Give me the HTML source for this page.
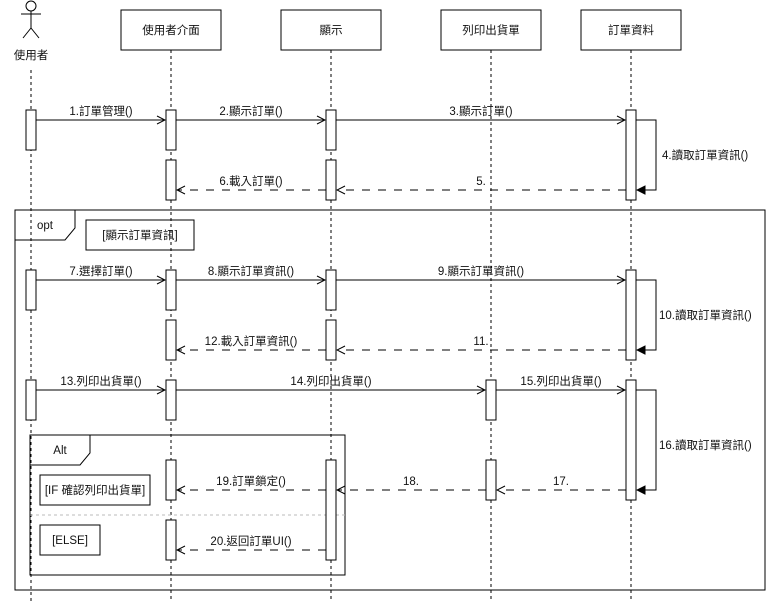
<!DOCTYPE html>
<html><head><meta charset="utf-8"><style>
html,body{margin:0;padding:0;background:#fff;width:766px;height:601px;overflow:hidden}
text{font-family:"Liberation Sans","Noto Sans CJK TC",sans-serif;font-size:11.5px;fill:#111}
</style></head><body>
<svg width="766" height="601" viewBox="0 0 766 601" xmlns="http://www.w3.org/2000/svg">
<defs>
<marker id="op" markerWidth="10" markerHeight="10" refX="9" refY="5" orient="auto" markerUnits="userSpaceOnUse"><path d="M1,1 L9,5 L1,9" fill="none" stroke="#000" stroke-width="1"/></marker>
<marker id="fl" markerWidth="10" markerHeight="10" refX="9" refY="5" orient="auto" markerUnits="userSpaceOnUse"><path d="M1,1 L9,5 L1,9 z" fill="#000" stroke="#000"/></marker>
</defs>
<g stroke="#000" stroke-width="1" fill="none">
<g stroke-dasharray="3,3">
<line x1="31" y1="70" x2="31" y2="601"/>
<line x1="171" y1="50" x2="171" y2="601"/>
<line x1="331" y1="50" x2="331" y2="601"/>
<line x1="491" y1="50" x2="491" y2="601"/>
<line x1="631" y1="50" x2="631" y2="601"/>
</g>
<circle cx="31" cy="6" r="5"/>
<line x1="31" y1="11" x2="31" y2="28"/>
<line x1="21" y1="14" x2="41" y2="14"/>
<line x1="31" y1="28" x2="23" y2="38"/>
<line x1="31" y1="28" x2="39" y2="38"/>
<g fill="#fff">
<rect x="121" y="10" width="100" height="40"/>
<rect x="281" y="10" width="100" height="40"/>
<rect x="441" y="10" width="100" height="40"/>
<rect x="581" y="10" width="100" height="40"/>
</g>
<rect x="15" y="210" width="750" height="380"/>
<path d="M15,240 L65,240 L75,228 L75,210"/>
<rect x="86" y="220" width="108" height="30"/>
<rect x="30" y="435" width="315" height="140"/>
<path d="M30,465 L80,465 L90,453 L90,435"/>
<rect x="40" y="475" width="110" height="30"/>
<rect x="40" y="525" width="60" height="30"/>
<line x1="30" y1="515" x2="345" y2="515" stroke="#bbb" stroke-dasharray="3,3"/>
<g fill="#fff">
<rect x="26" y="110" width="10" height="40"/>
<rect x="166" y="110" width="10" height="40"/>
<rect x="326" y="110" width="10" height="40"/>
<rect x="166" y="160" width="10" height="40"/>
<rect x="326" y="160" width="10" height="40"/>
<rect x="626" y="110" width="10" height="90"/>
<rect x="26" y="270" width="10" height="40"/>
<rect x="166" y="270" width="10" height="40"/>
<rect x="326" y="270" width="10" height="40"/>
<rect x="166" y="320" width="10" height="40"/>
<rect x="326" y="320" width="10" height="40"/>
<rect x="626" y="270" width="10" height="90"/>
<rect x="26" y="380" width="10" height="40"/>
<rect x="166" y="380" width="10" height="40"/>
<rect x="486" y="380" width="10" height="40"/>
<rect x="626" y="380" width="10" height="120"/>
<rect x="166" y="460" width="10" height="40"/>
<rect x="326" y="460" width="10" height="100"/>
<rect x="486" y="460" width="10" height="40"/>
<rect x="166" y="520" width="10" height="40"/>
</g>
<g marker-end="url(#op)">
<line x1="36" y1="120" x2="165" y2="120"/>
<line x1="176" y1="120" x2="325" y2="120"/>
<line x1="336" y1="120" x2="625" y2="120"/>
<line x1="36" y1="280" x2="165" y2="280"/>
<line x1="176" y1="280" x2="325" y2="280"/>
<line x1="336" y1="280" x2="625" y2="280"/>
<line x1="36" y1="390" x2="165" y2="390"/>
<line x1="176" y1="390" x2="485" y2="390"/>
<line x1="496" y1="390" x2="625" y2="390"/>
</g>
<g marker-end="url(#fl)">
<path d="M636,120 L656,120 L656,190 L637,190"/>
<path d="M636,280 L656,280 L656,350 L637,350"/>
<path d="M636,390 L656,390 L656,490 L637,490"/>
</g>
<g marker-end="url(#op)" stroke-dasharray="8,8">
<line x1="626" y1="190" x2="337" y2="190"/>
<line x1="326" y1="190" x2="177" y2="190"/>
<line x1="626" y1="350" x2="337" y2="350"/>
<line x1="326" y1="350" x2="177" y2="350"/>
<line x1="626" y1="490" x2="497" y2="490"/>
<line x1="486" y1="490" x2="337" y2="490"/>
<line x1="326" y1="490" x2="177" y2="490"/>
<line x1="326" y1="550" x2="177" y2="550"/>
</g>
</g>
<text x="31" y="59" text-anchor="middle">使用者</text>
<text x="171" y="34" text-anchor="middle">使用者介面</text>
<text x="331" y="34" text-anchor="middle">顯示</text>
<text x="491" y="34" text-anchor="middle">列印出貨單</text>
<text x="631" y="34" text-anchor="middle">訂單資料</text>
<text x="101" y="115" text-anchor="middle">1.訂單管理()</text>
<text x="251" y="115" text-anchor="middle">2.顯示訂單()</text>
<text x="481" y="115" text-anchor="middle">3.顯示訂單()</text>
<text x="662" y="159">4.讀取訂單資訊()</text>
<text x="481" y="185" text-anchor="middle">5.</text>
<text x="251" y="185" text-anchor="middle">6.載入訂單()</text>
<text x="45" y="229" text-anchor="middle">opt</text>
<text x="140" y="239" text-anchor="middle">[顯示訂單資訊]</text>
<text x="101" y="275" text-anchor="middle">7.選擇訂單()</text>
<text x="251" y="275" text-anchor="middle">8.顯示訂單資訊()</text>
<text x="481" y="275" text-anchor="middle">9.顯示訂單資訊()</text>
<text x="659" y="319">10.讀取訂單資訊()</text>
<text x="481" y="345" text-anchor="middle">11.</text>
<text x="251" y="345" text-anchor="middle">12.載入訂單資訊()</text>
<text x="101" y="385" text-anchor="middle">13.列印出貨單()</text>
<text x="331" y="385" text-anchor="middle">14.列印出貨單()</text>
<text x="561" y="385" text-anchor="middle">15.列印出貨單()</text>
<text x="659" y="449">16.讀取訂單資訊()</text>
<text x="60" y="454" text-anchor="middle">Alt</text>
<text x="95" y="494" text-anchor="middle">[IF 確認列印出貨單]</text>
<text x="70" y="544" text-anchor="middle">[ELSE]</text>
<text x="561" y="485" text-anchor="middle">17.</text>
<text x="411" y="485" text-anchor="middle">18.</text>
<text x="251" y="485" text-anchor="middle">19.訂單鎖定()</text>
<text x="251" y="545" text-anchor="middle">20.返回訂單UI()</text>
</svg>
</body></html>
